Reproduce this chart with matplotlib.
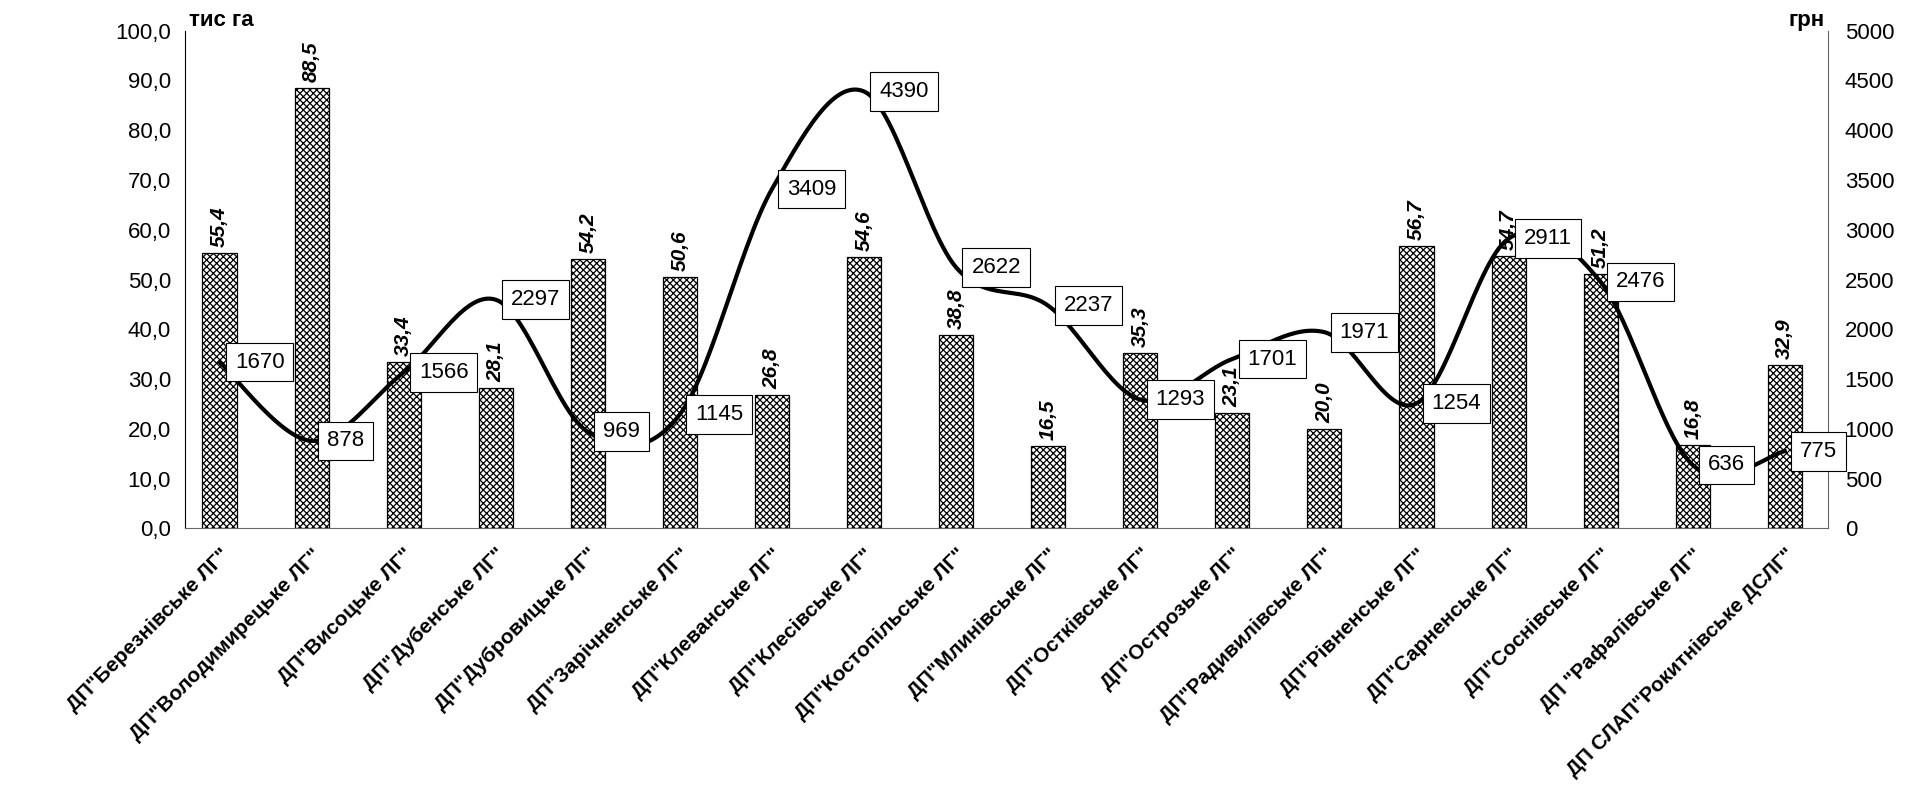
import numpy as np
import matplotlib
matplotlib.use('Agg')
import matplotlib.pyplot as plt
from matplotlib.transforms import ScaledTranslation

plt.rcParams['font.family'] = ['Liberation Sans', 'DejaVu Sans']
plt.rcParams['hatch.linewidth'] = 0.9

# data
names = ['ДП"Березнівське ЛГ"', 'ДП"Володимирецьке ЛГ"', 'ДП"Висоцьке ЛГ"',
         'ДП"Дубенське ЛГ"', 'ДП"Дубровицьке ЛГ"', 'ДП"Зарічненське ЛГ"',
         'ДП"Клеванське ЛГ"', 'ДП"Клесівське ЛГ"', 'ДП"Костопільське ЛГ"',
         'ДП"Млинівське ЛГ"', 'ДП"Остківське ЛГ"', 'ДП"Острозьке ЛГ"',
         'ДП"Радивилівське ЛГ"', 'ДП"Рівненське ЛГ"', 'ДП"Сарненське ЛГ"',
         'ДП"Соснівське ЛГ"', 'ДП "Рафалівське ЛГ"', 'ДП СЛАП"Рокитнівське ДСЛГ"']
area = [55.4, 88.5, 33.4, 28.1, 54.2, 50.6, 26.8, 54.6, 38.8,
        16.5, 35.3, 23.1, 20.0, 56.7, 54.7, 51.2, 16.8, 32.9]
cost = [1670, 878, 1566, 2297, 969, 1145, 3409, 4390, 2622,
        2237, 1293, 1701, 1971, 1254, 2911, 2476, 636, 775]


def smooth(xs, ys, n=30):
    # catmull-rom style smoothing like a spreadsheet smoothed line
    xs = np.asarray(xs, float)
    ys = np.asarray(ys, float)
    px = np.concatenate([[xs[0]], xs, [xs[-1]]])
    py = np.concatenate([[ys[0]], ys, [ys[-1]]])
    ox, oy = [], []
    t = np.linspace(0, 1, n)
    for i in range(1, len(px) - 2):
        p0, p1, p2, p3 = [np.array([px[j], py[j]]) for j in (i - 1, i, i + 1, i + 2)]
        c1 = p1 + (p2 - p0) / 6
        c2 = p2 - (p3 - p1) / 6
        b = ((1 - t) ** 3)[:, None] * p1 + (3 * (1 - t) ** 2 * t)[:, None] * c1 \
            + (3 * (1 - t) * t ** 2)[:, None] * c2 + (t ** 3)[:, None] * p2
        ox.extend(b[:, 0])
        oy.extend(b[:, 1])
    return np.array(ox), np.array(oy)


fig = plt.figure(figsize=(19.33, 8.09), dpi=100)
ax = fig.add_axes([0.0957, 0.347, 0.85, 0.615])
ax2 = ax.twinx()

x = np.arange(len(area))
ax.bar(x, area, width=0.37, color='white', edgecolor='black',
       hatch='xxxxx', linewidth=0.9, zorder=2)
for i, v in enumerate(area):
    ax.text(i, v + 1.2, f'{v:.1f}'.replace('.', ','), rotation=90,
            ha='center', va='bottom', fontsize=15, fontweight='bold',
            fontstyle='italic')

ax.set_ylim(0, 100)
ax.set_yticks(np.arange(0, 101, 10))
ax.set_yticklabels([f'{v:.1f}'.replace('.', ',') for v in np.arange(0, 101, 10)],
                   fontsize=16)
ax.set_xlim(-0.375, len(area) - 0.53)
ax.set_xticks(x)
ax.set_xticklabels(names, rotation=45, ha='right', rotation_mode='anchor',
                   fontsize=15, fontweight='bold')
# nudge the slanted names a little left, like the original
shift = ScaledTranslation(-10 / 72, 0, fig.dpi_scale_trans)
for lab in ax.get_xticklabels():
    lab.set_transform(lab.get_transform() + shift)
ax.tick_params(axis='x', length=0, pad=12)
ax.tick_params(axis='y', length=0, pad=10)
ax.spines['top'].set_visible(False)
ax.spines['right'].set_visible(False)
ax.spines['bottom'].set_color('#666666')

sx, sy = smooth(x, cost)
ax2.plot(sx, sy, color='black', linewidth=3, zorder=3)
for i, v in enumerate(cost):
    ax2.annotate(str(v), (i, v), xytext=(11, 0), textcoords='offset points',
                 ha='left', va='center', fontsize=16,
                 bbox=dict(boxstyle='square,pad=0.4', fc='white', ec='black', lw=0.8),
                 zorder=5)
ax2.set_ylim(0, 5000)
ax2.set_yticks(np.arange(0, 5001, 500))
ax2.tick_params(axis='y', length=0, labelsize=16, pad=12)
ax2.spines['top'].set_visible(False)
ax2.spines['left'].set_visible(False)
ax2.spines['bottom'].set_visible(False)
ax2.spines['right'].set_color('#666666')

fig.text(0.098, 0.975, 'тис га', fontsize=16, fontweight='bold', ha='left', va='center')
fig.text(0.925, 0.975, 'грн', fontsize=16, fontweight='bold', ha='left', va='center')

fig.savefig('out.png', dpi=100)
